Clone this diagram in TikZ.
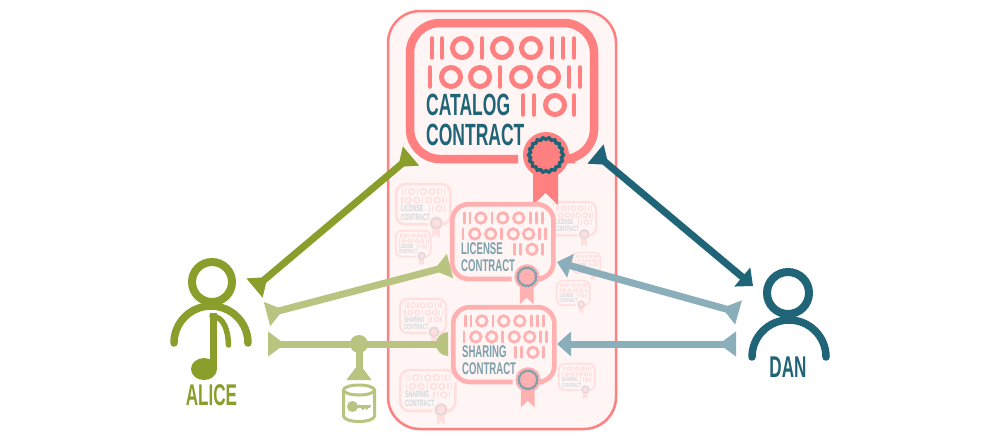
\documentclass[tikz,border=0pt]{standalone}
\usepackage{fontspec}
\setmainfont[FakeStretch=0.57]{Liberation Sans Bold}
\usetikzlibrary{arrows.meta}
\definecolor{rosy}{HTML}{FF8080}
\definecolor{bgpink}{HTML}{FFF5F4}
\definecolor{teal}{HTML}{1F6477}
\definecolor{olive}{HTML}{8A9E2B}
\definecolor{oliveL}{HTML}{B8C480}
\definecolor{tealL}{HTML}{8AAFBA}
\tikzset{
  flareA/.tip={Triangle[reversed,length=17pt,width=24pt]},
  headA/.tip={Triangle[length=14pt,width=24pt]},
  linkO/.style={draw=olive,line width=7pt},
  linkL/.style={draw=oliveL,line width=7pt},
  linkD/.style={draw=teal,line width=7pt},
  linkT/.style={draw=tealL,line width=7pt},
  cardtext/.style={anchor=base west,inner sep=0pt,transform shape,font=\fontsize{30.7}{30.7}\selectfont},
  persontext/.style={anchor=base,inner sep=0pt,font=\fontsize{30}{30}\selectfont},
}
% name, x, y, scale, word, strength of colour
\newcommand{\contractcard}[6]{%
\begin{scope}[shift={(#2,#3)},scale=#4]
  \colorlet{cpink}{rosy!#6!bgpink}
  \colorlet{cteal}{teal!#6!bgpink}
  \fill[bgpink] (4,4) rectangle (188,140);
  \draw[cpink,line width=#4*8.5pt,rounded corners=#4*30pt]
     (112,140) -- (4,140) -- (4,4) -- (188,4) -- (188,140) -- (169,140);
  \foreach \cx/\cy in {26/29,36/29,76/29,146/29,157/29,168/29,24/58,94/58,163/58,174/58,117/86,128/86,168/86}
    \draw[cpink,line width=#4*4.6pt,line cap=round] (\cx,\cy-9.5) -- (\cx,\cy+9.5);
  \foreach \cx/\cy in {56/29,96/29,125/29,45/58,74/58,115/58,143/58,149/86}
    \draw[cpink,line width=#4*5pt] (\cx,\cy) circle[radius=9.5];
  \node[cardtext,text=cteal] (#1-a) at (20,96) {#5};
  \node[cardtext,text=cteal] (#1-b) at (20,126) {CONTRACT};
  \fill[cpink] (127,136) -- (127,186) -- (139.5,174) -- (152,186) -- (152,136) -- cycle;
  \fill[cpink] (140,136) circle[radius=23];
  \draw[cteal,line width=#4*3.4pt] plot[domain=0:360,samples=73] ({140+(16.5+0.9*cos(18*\x))*cos(\x)},{136+(16.5+0.9*cos(18*\x))*sin(\x)}) -- cycle;
\end{scope}}
\begin{document}
\begin{tikzpicture}[x=1pt,y=-1pt]
\useasboundingbox (0,0) rectangle (1000,440);
\fill[white] (0,0) rectangle (1000,440);
\draw[rosy,fill=bgpink,line width=2.5pt,rounded corners=32pt] (388,11) rectangle (616,429);
% faint cards
\contractcard{f1}{395}{183}{0.295}{LICENSE}{20}
\contractcard{f2}{550}{201}{0.245}{LICENSE}{20}
\contractcard{f3}{395}{230}{0.19}{LICENSE}{20}
\contractcard{f4}{572}{252}{0.15}{LICENSE}{20}
\contractcard{f5}{556}{280}{0.18}{LICENSE}{20}
\contractcard{f6}{399}{298}{0.25}{SHARING}{20}
\contractcard{f7}{399}{369}{0.30}{SHARING}{20}
\contractcard{f8}{558}{363}{0.195}{SHARING}{20}
% main cards
\contractcard{catalog}{406}{19}{1}{CATALOG}{100}
\contractcard{license}{450}{202}{0.55}{LICENSE}{58}
\contractcard{sharing}{451}{305}{0.55}{SHARING}{58}
% connector ends
\coordinate (aliceTop) at (254.5,288);
\coordinate (catalogW) at (411,156);
\coordinate (aliceMid) at (267,314);
\coordinate (licenseW) at (450,266);
\coordinate (aliceLow) at (268,344);
\coordinate (sharingW) at (448,344);
\coordinate (junction) at (359,344);
\coordinate (dbTop) at (359,380);
\coordinate (catalogE) at (595.5,154);
\coordinate (danTop) at (753,286);
\coordinate (danMid) at (738.5,312.5);
\coordinate (licenseE) at (557,262);
\coordinate (danLow) at (736,344);
\coordinate (sharingE) at (557,344);
% connectors
\draw[linkO,flareA-flareA] (aliceTop) -- (catalogW);
\draw[linkL,flareA-flareA] (aliceMid) -- (licenseW);
\draw[linkL,flareA-] (aliceLow) -- (sharingW);
\fill[oliveL] (448,332) arc[start angle=270,end angle=90,radius=12] -- cycle;
\fill[oliveL] (junction) circle[radius=9];
\draw[linkL,-flareA] (junction) -- (dbTop);
\draw[linkD,flareA-headA] (catalogE) -- (danTop);
\draw[linkT,flareA-headA] (danMid) -- (licenseE);
\draw[linkT,flareA-headA] (danLow) -- (sharingE);
% database
\draw[oliveL,line width=3pt] (343.5,390) -- (343.5,416) arc[start angle=180,end angle=0,x radius=15.5,y radius=5.5] -- (374.5,390);
\draw[oliveL,line width=3pt] (359,390) ellipse[x radius=15.5,y radius=5];
\fill[oliveL] (352.5,406.5) circle[radius=5.5];
\fill[oliveL] (355,405) -- (371,405) -- (370,408) -- (368,408) -- (367,410) -- (365,408) -- (363,410) -- (361,408) -- (355,408) -- cycle;
% Alice
\draw[olive,line width=8pt] (212,282) circle[radius=20];
\draw[olive,line width=7.5pt,line cap=round] (174,343) arc[start angle=180,end angle=360,radius=37];
\fill[olive] (204,369) ellipse[x radius=13,y radius=11];
\fill[olive] (210,313) -- (217,313) -- (217,369) -- (210,369) -- cycle;
\draw[olive,line width=5.5pt,line cap=round] (212,316) .. controls (224,317) and (228,330) .. (228.5,345);
\node[persontext,text=olive] (alice) at (211.5,405) {ALICE};
% Dan
\draw[teal,line width=8pt] (788,293) circle[radius=21];
\draw[teal,line width=7.5pt,line cap=round] (752,357) arc[start angle=180,end angle=360,radius=37];
\node[persontext,text=teal] (dan) at (788,377) {DAN};
\end{tikzpicture}
\end{document}
